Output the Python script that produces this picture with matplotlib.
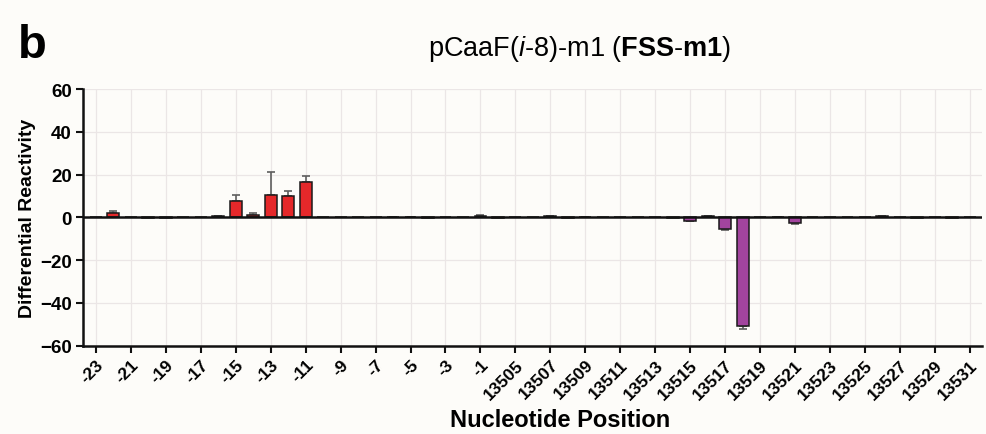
import numpy as np
import matplotlib
matplotlib.use("Agg")
import matplotlib.pyplot as plt
import matplotlib.transforms as mtransforms

plt.rcParams["font.family"] = ["Liberation Sans", "DejaVu Sans"]
plt.rcParams["mathtext.fontset"] = "custom"
plt.rcParams["mathtext.rm"] = "Liberation Sans"
plt.rcParams["mathtext.it"] = "Liberation Sans:italic"
plt.rcParams["mathtext.bf"] = "Liberation Sans:bold"

# --- data ---
positions = list(range(-23, 0)) + list(range(13504, 13532))
reactivity = [
    0.0, 2.0, 0.0, -0.2, -0.3, 0.0, 0.0, 0.6, 7.5, 1.2,
    10.5, 10.2, 16.4, 0.0, 0.0, 0.0, 0.0, 0.3, 0.3, -0.2,
    0.0, 0.0, 0.7, -0.2, 0.0, 0.0, 0.5, -0.2, 0.3, 0.0,
    0.0, 0.0, 0.0, -0.3, -1.6, 0.6, -5.5, -50.8, 0.0, 0.3,
    -2.6, 0.0, 0.0, 0.0, 0.0, 0.6, 0.0, -0.3, 0.0, -0.3,
    0.0,
]
error = [
    0.0, 0.8, 0.0, 0.0, 0.0, 0.0, 0.0, 0.2, 2.8, 0.8,
    10.5, 2.1, 3.0, 0.0, 0.0, 0.0, 0.0, 0.1, 0.1, 0.0,
    0.0, 0.0, 0.2, 0.0, 0.0, 0.0, 0.2, 0.0, 0.1, 0.0,
    0.0, 0.0, 0.0, 0.0, 0.3, 0.2, 0.6, 1.5, 0.0, 0.1,
    0.6, 0.0, 0.0, 0.0, 0.0, 0.2, 0.0, 0.0, 0.0, 0.0,
    0.0,
]
tick_labels = [str(p) for p in positions]

RED = "#e5282a"
PURPLE = "#a2449e"
BG = "#fdfcf9"

x = np.arange(len(positions))
vals = np.array(reactivity)
errs = np.array(error)
colors = [RED if v >= 0 else PURPLE for v in vals]

fig = plt.figure(figsize=(9.86, 4.35), dpi=100, facecolor=BG)
ax = fig.add_axes([0.084, 0.203, 0.912, 0.59])
ax.set_facecolor(BG)

# grid
ax.set_axisbelow(True)
ax.yaxis.grid(True, color="#ebe6e6", lw=0.9)
for xi in x[::2]:
    ax.axvline(xi, color="#ebe6e6", lw=0.9, zorder=0)

ax.bar(x, vals, width=0.68, color=colors, edgecolor="#1a1a1a", linewidth=1.1, zorder=3)

# one-sided error bars (away from zero)
lower = np.where(vals < 0, errs, 0)
upper = np.where(vals >= 0, errs, 0)
mask = errs > 0
ax.errorbar(x[mask], vals[mask], yerr=[lower[mask], upper[mask]], fmt="none",
            ecolor="#5e5e5e", elinewidth=1.2, capsize=3, capthick=1.2, zorder=2)

ax.axhline(0, color="#111111", lw=1.8, zorder=4)

ax.set_xlim(-0.75, len(x) - 0.3)
ax.set_ylim(-60, 60)
ax.set_yticks(np.arange(-60, 61, 20))
ax.set_xticks(x[::2])
ax.set_xticklabels(tick_labels[::2], rotation=45, ha="right", rotation_mode="anchor",
                   fontsize=12.5, fontweight="bold")
shift = mtransforms.ScaledTranslation(0.07, 0, fig.dpi_scale_trans)
for lab in ax.get_xticklabels():
    lab.set_transform(lab.get_transform() + shift)
for lab in ax.get_yticklabels():
    lab.set_fontweight("bold")
    lab.set_fontsize(13.5)

for s in ["top", "right"]:
    ax.spines[s].set_visible(False)
for s in ["left", "bottom"]:
    ax.spines[s].set_linewidth(1.8)
    ax.spines[s].set_color("#111111")
ax.tick_params(axis="both", direction="out", length=5, width=1.5, color="#111111")
ax.tick_params(axis="x", pad=3)
ax.tick_params(axis="y", pad=3)

ax.set_ylabel("Differential Reactivity", fontsize=14, fontweight="bold", labelpad=3)
fig.text(0.568, 0.034, "Nucleotide Position", fontsize=17, fontweight="bold",
         ha="center", va="center")

fig.text(0.588, 0.887, r"pCaaF($\mathit{i}$-8)-m1 ($\mathbf{FSS}$-$\mathbf{m1}$)",
         fontsize=19.5, ha="center", va="center")
fig.text(0.018, 0.895, "b", fontsize=34, fontweight="bold", ha="left", va="center")

fig.savefig("out.png", dpi=100, facecolor=BG)
